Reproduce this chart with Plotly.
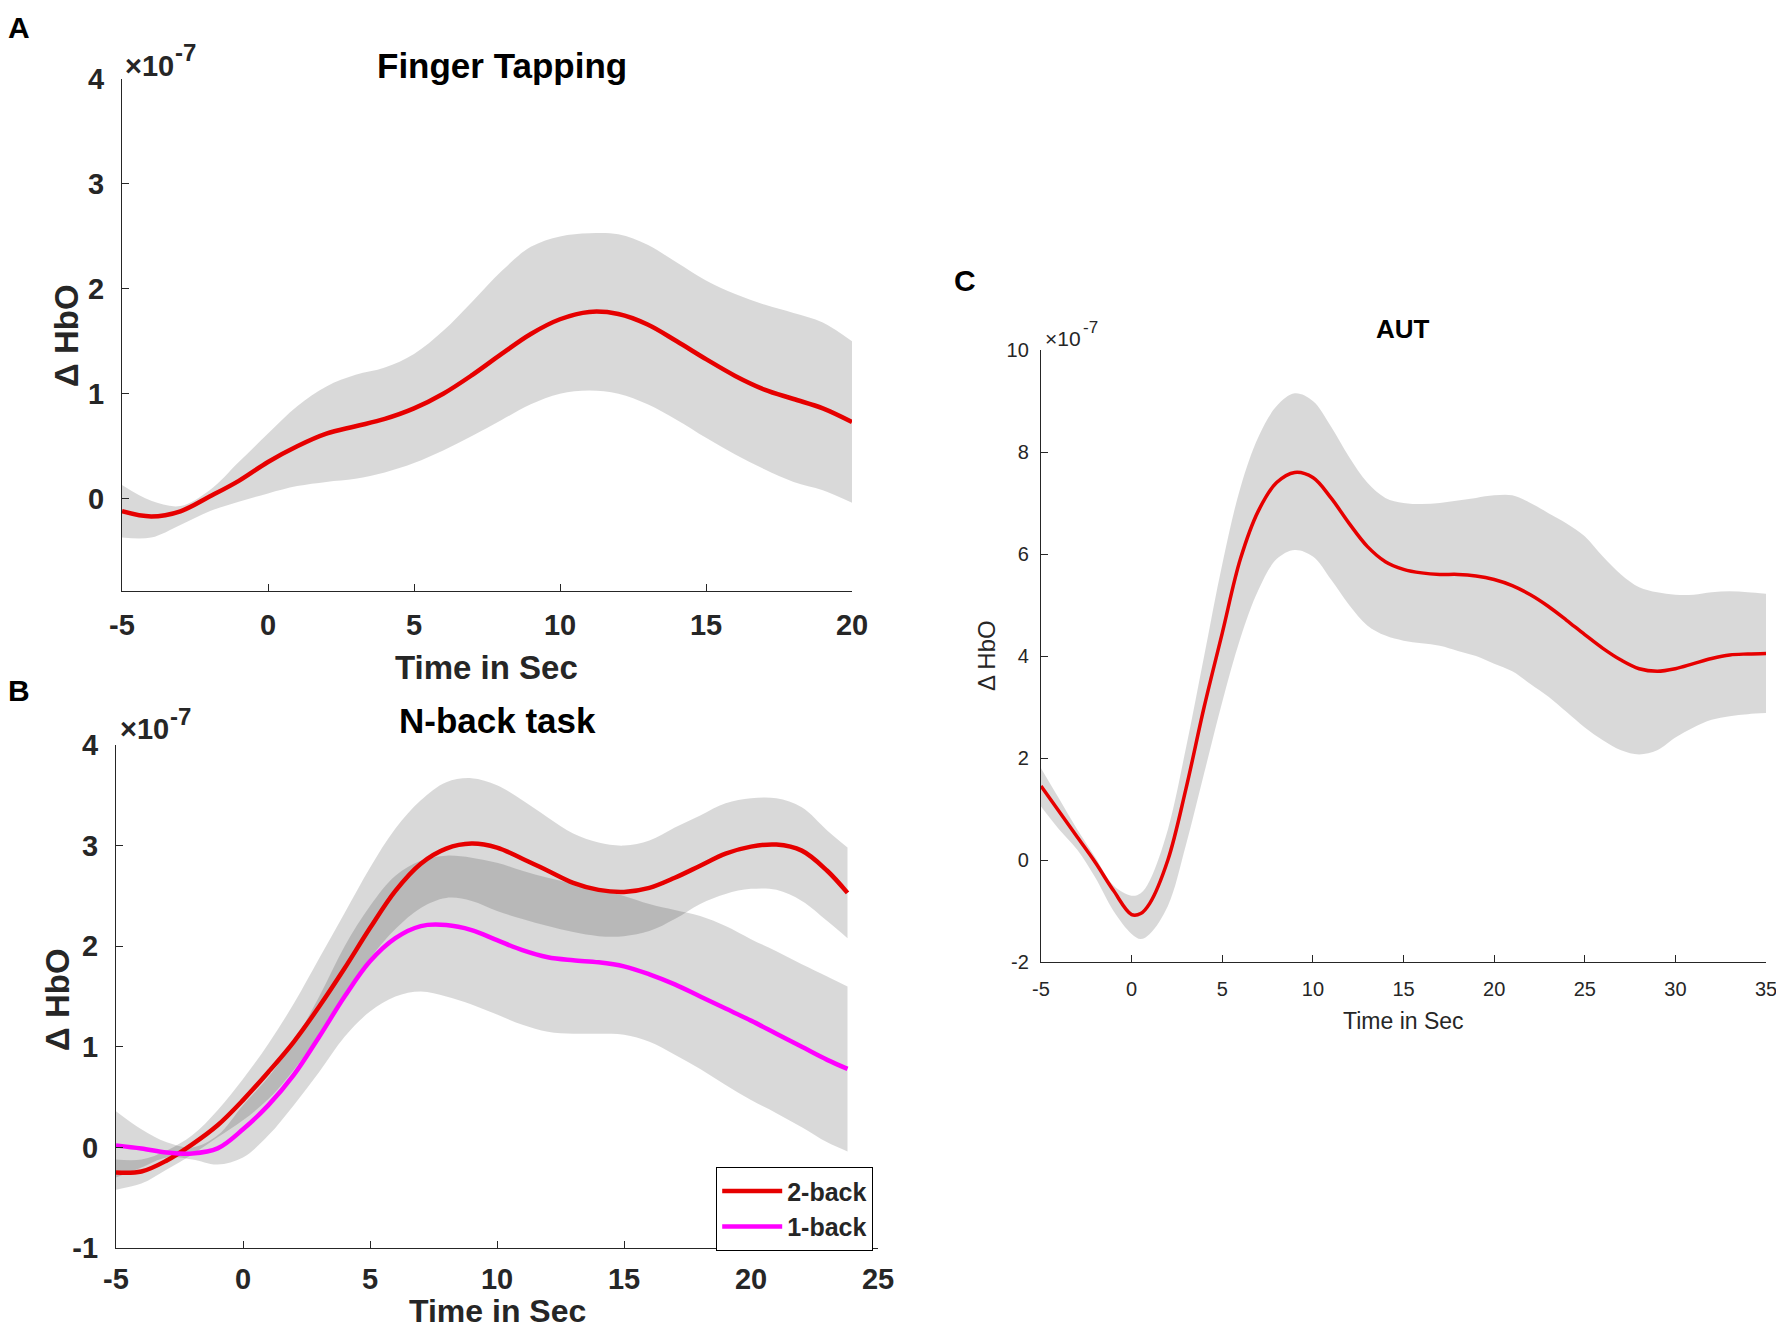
import plotly.graph_objects as go

# Panel A: Finger Tapping (values in units of 1e-7)
ft_time = [-5, -4, -3, -2, -1, 0, 1, 2, 3, 4, 5, 6, 7, 8, 9, 10, 11, 12, 13, 14, 15, 16, 17, 18, 19, 20]
ft_mean = [-0.12, -0.17, -0.12, 0.02, 0.17, 0.35, 0.5, 0.62, 0.69, 0.76, 0.86, 1.0, 1.18, 1.38, 1.57, 1.71,
           1.78, 1.76, 1.66, 1.5, 1.33, 1.17, 1.04, 0.95, 0.86, 0.73]
ft_upper = [0.13, -0.02, -0.07, 0.08, 0.35, 0.62, 0.88, 1.07, 1.18, 1.25, 1.38, 1.6, 1.88, 2.17, 2.4, 2.5,
            2.53, 2.52, 2.42, 2.25, 2.08, 1.95, 1.85, 1.77, 1.68, 1.5]
ft_lower = [-0.37, -0.37, -0.25, -0.12, -0.03, 0.05, 0.12, 0.16, 0.19, 0.25, 0.34, 0.46, 0.6, 0.75, 0.9, 1.0,
            1.03, 1.0, 0.9, 0.75, 0.58, 0.42, 0.28, 0.16, 0.08, -0.04]
ft_xticks = [-5, 0, 5, 10, 15, 20]
ft_xlabels = ["-5", "0", "5", "10", "15", "20"]
ft_yticks = [0, 1, 2, 3, 4]
ft_ylabels = ["0", "1", "2", "3", "4"]

# Panel B: N-back task
nb_time = [-5, -4, -3, -2, -1, 0, 1, 2, 3, 4, 5, 6, 7, 8, 9, 10, 11, 12, 13, 14, 15, 16, 17, 18, 19, 20,
           21, 22, 23, 23.8]
back2_mean = [-0.25, -0.24, -0.13, 0.03, 0.22, 0.47, 0.75, 1.05, 1.4, 1.78, 2.18, 2.55, 2.82, 2.97, 3.02, 2.98,
              2.87, 2.75, 2.63, 2.56, 2.54, 2.58, 2.68, 2.8, 2.92, 2.99, 3.01, 2.95, 2.75, 2.53]
back2_upper = [-0.12, -0.12, -0.03, 0.12, 0.37, 0.68, 1.03, 1.43, 1.88, 2.33, 2.78, 3.17, 3.45, 3.63, 3.67, 3.6,
               3.45, 3.28, 3.12, 3.03, 3.0, 3.05, 3.18, 3.3, 3.42, 3.47, 3.47, 3.38, 3.15, 2.98]
back2_lower = [-0.42, -0.36, -0.22, -0.07, 0.1, 0.27, 0.48, 0.77, 1.12, 1.52, 1.88, 2.17, 2.38, 2.48, 2.45, 2.35,
               2.27, 2.2, 2.14, 2.1, 2.1, 2.15, 2.27, 2.42, 2.52, 2.57, 2.56, 2.45, 2.25, 2.08]
back1_mean = [0.02, -0.01, -0.05, -0.06, -0.01, 0.18, 0.42, 0.72, 1.1, 1.5, 1.85, 2.08, 2.2, 2.21, 2.16, 2.06,
              1.96, 1.89, 1.86, 1.84, 1.8, 1.72, 1.62, 1.5, 1.38, 1.26, 1.13, 1.0, 0.87, 0.78]
back1_upper = [0.36, 0.18, 0.05, 0.0, 0.12, 0.42, 0.7, 1.05, 1.5, 2.0, 2.4, 2.7, 2.85, 2.9, 2.88, 2.83,
               2.75, 2.68, 2.62, 2.56, 2.5, 2.42, 2.36, 2.3, 2.2, 2.07, 1.95, 1.82, 1.7, 1.6]
back1_lower = [-0.3, -0.2, -0.1, -0.12, -0.17, -0.1, 0.12, 0.42, 0.75, 1.1, 1.35, 1.5, 1.55, 1.5, 1.42, 1.32,
               1.22, 1.15, 1.13, 1.13, 1.12, 1.05, 0.92, 0.78, 0.62, 0.47, 0.34, 0.2, 0.05, -0.04]
nb_xticks = [-5, 0, 5, 10, 15, 20, 25]
nb_xlabels = ["-5", "0", "5", "10", "15", "20", "25"]
nb_yticks = [-1, 0, 1, 2, 3, 4]
nb_ylabels = ["-1", "0", "1", "2", "3", "4"]

# Panel C: AUT
aut_time = [-5, -4, -3, -2, -1, 0, 0.5, 1, 2, 3, 4, 5, 6, 7, 8, 9, 10, 11, 12, 13, 14, 15, 16, 17, 18, 19,
            20, 21, 22, 23, 24, 25, 26, 27, 28, 29, 30, 31, 32, 33, 34, 35]
aut_mean = [1.45, 0.95, 0.45, -0.05, -0.6, -1.07, -1.05, -0.85, 0.0, 1.4, 3.0, 4.45, 5.9, 6.85, 7.4, 7.6,
            7.5, 7.1, 6.6, 6.15, 5.85, 5.7, 5.63, 5.6, 5.6, 5.57, 5.5, 5.38, 5.2, 4.97, 4.7, 4.42, 4.15, 3.92,
            3.75, 3.7, 3.75, 3.85, 3.95, 4.02, 4.04, 4.05]
aut_upper = [1.8, 1.2, 0.6, 0.05, -0.5, -0.7, -0.65, -0.4, 0.6, 2.2, 4.0, 5.8, 7.3, 8.3, 8.9, 9.15,
             9.0, 8.5, 7.9, 7.4, 7.1, 7.0, 6.98, 7.0, 7.05, 7.1, 7.15, 7.15, 7.0, 6.8, 6.6, 6.35, 5.95, 5.6,
             5.35, 5.25, 5.2, 5.2, 5.25, 5.27, 5.25, 5.22]
aut_lower = [1.05, 0.6, 0.2, -0.35, -1.0, -1.45, -1.55, -1.45, -0.9, 0.3, 1.7, 3.1, 4.35, 5.3, 5.9, 6.08,
             5.95, 5.5, 5.0, 4.6, 4.4, 4.3, 4.25, 4.2, 4.1, 4.0, 3.85, 3.7, 3.45, 3.2, 2.9, 2.6, 2.35, 2.15,
             2.07, 2.15, 2.4, 2.6, 2.75, 2.82, 2.86, 2.88]
aut_xticks = [-5, 0, 5, 10, 15, 20, 25, 30, 35]
aut_xlabels = ["-5", "0", "5", "10", "15", "20", "25", "30", "35"]
aut_yticks = [-2, 0, 2, 4, 6, 8, 10]
aut_ylabels = ["-2", "0", "2", "4", "6", "8", "10"]

# the page body keeps its 8px margin, so the figure is made 16px smaller
# than the window and target positions are shifted by that margin
PAD = 8
W, H = 1784 - 2 * PAD, 1336 - 2 * PAD
BAND = "rgba(0,0,0,0.15)"
RED = "#e60000"
MAGENTA = "#ff00ff"
AXC = "#262626"
BOLD_FONT = "Liberation Sans Narrow, Arial Narrow, Liberation Sans, Arial"
REG_FONT = "Liberation Sans, Arial"


def px(x):
    return (x - PAD) / W


def py(y):
    return 1 - (y - PAD) / H


def band(fig, t, up, lo, xa, ya):
    fig.add_trace(go.Scatter(x=t, y=up, mode="lines", line=dict(width=0, shape="spline"),
                             showlegend=False, hoverinfo="skip", xaxis=xa, yaxis=ya))
    fig.add_trace(go.Scatter(x=t, y=lo, mode="lines", line=dict(width=0, shape="spline"),
                             fill="tonexty", fillcolor=BAND,
                             showlegend=False, hoverinfo="skip", xaxis=xa, yaxis=ya))


fig = go.Figure()

# A
band(fig, ft_time, ft_upper, ft_lower, "x", "y")
fig.add_trace(go.Scatter(x=ft_time, y=ft_mean, mode="lines", line=dict(color=RED, width=4.5, shape="spline"),
                         showlegend=False, xaxis="x", yaxis="y"))

# B
band(fig, nb_time, back2_upper, back2_lower, "x2", "y2")
band(fig, nb_time, back1_upper, back1_lower, "x2", "y2")
fig.add_trace(go.Scatter(x=nb_time, y=back2_mean, mode="lines", name="2-back",
                         line=dict(color=RED, width=4.5, shape="spline"), xaxis="x2", yaxis="y2"))
fig.add_trace(go.Scatter(x=nb_time, y=back1_mean, mode="lines", name="1-back",
                         line=dict(color=MAGENTA, width=4.5, shape="spline"), xaxis="x2", yaxis="y2"))

# C
band(fig, aut_time, aut_upper, aut_lower, "x3", "y3")
fig.add_trace(go.Scatter(x=aut_time, y=aut_mean, mode="lines", line=dict(color=RED, width=3.5, shape="spline"),
                         showlegend=False, xaxis="x3", yaxis="y3"))


def axis(domain, rng, vals, labels, size, bold, anchor, standoff):
    fam = BOLD_FONT if bold else REG_FONT
    return dict(domain=domain, range=rng, tickvals=vals, ticktext=labels, anchor=anchor,
                showgrid=False, zeroline=False, showline=True, linecolor=AXC, linewidth=1.3,
                ticks="inside", ticklen=7, tickcolor=AXC, tickwidth=1.3, automargin=False,
                ticklabelstandoff=standoff, ticklabeloverflow="allow",
                tickfont=dict(family=fam, size=size, color=AXC, weight="bold" if bold else "normal"))


fig.update_layout(
    width=W, height=H, margin=dict(l=0, r=0, t=0, b=0),
    paper_bgcolor="white", plot_bgcolor="white",
    xaxis=axis([px(122), px(852)], [-5, 20], ft_xticks, ft_xlabels, 29, True, "y", 8),
    yaxis=axis([py(591), py(79)], [-0.88, 4], ft_yticks, ft_ylabels, 29, True, "x", 11),
    xaxis2=axis([px(116), px(878)], [-5, 25], nb_xticks, nb_xlabels, 29, True, "y2", 5),
    yaxis2=axis([py(1248), py(745)], [-1, 4], nb_yticks, nb_ylabels, 29, True, "x2", 11),
    xaxis3=axis([px(1041), px(1766)], [-5, 35], aut_xticks, aut_xlabels, 20, False, "y3", 9),
    yaxis3=axis([py(962), py(350)], [-2, 10], aut_yticks, aut_ylabels, 20, False, "x3", 7),
    legend=dict(x=px(873), y=py(1167), xanchor="right", yanchor="top", traceorder="normal",
                bordercolor="black", borderwidth=1.2, bgcolor="white",
                font=dict(family=BOLD_FONT, size=25, color=AXC, weight="bold"),
                tracegroupgap=0, itemwidth=60),
)

ann = []


def text(x, y, s, size, bold=True, family=None, xanchor="center", angle=0, color="black"):
    ann.append(dict(x=px(x), y=py(y), xref="paper", yref="paper", text=s, showarrow=False,
                    xanchor=xanchor, yanchor="middle", textangle=angle,
                    font=dict(family=family or BOLD_FONT, size=size, color=color,
                              weight="bold" if bold else "normal")))


# panel letters
text(19, 27, "A", 30, family="Liberation Sans, Arial")
text(19, 690, "B", 30, family="Liberation Sans, Arial")
text(965, 281, "C", 30, family="Liberation Sans, Arial")

# titles
text(502, 65, "Finger Tapping", 35)
text(497, 720, "N-back task", 35)
text(1403, 329, "AUT", 26, family="Liberation Sans, Arial")

# exponent labels: "x10" with a raised "-7"
text(123, 66, "\u00d710", 29, xanchor="left", color=AXC)
text(173, 53, "-7", 24, xanchor="left", color=AXC)
text(118, 729, "\u00d710", 29, xanchor="left", color=AXC)
text(168, 716, "-7", 24, xanchor="left", color=AXC)
text(1043, 339, "\u00d710", 21, bold=False, family=REG_FONT, xanchor="left", color=AXC)
text(1081, 327, "-7", 17, bold=False, family=REG_FONT, xanchor="left", color=AXC)

# axis titles
text(487, 667, "Time in Sec", 33, color=AXC)
text(497, 1311, "Time in Sec", 32, color=AXC)
text(1403, 1021, "Time in Sec", 23, bold=False, family=REG_FONT, color=AXC)
text(66, 336, "\u0394 HbO", 33, angle=-90, color=AXC)
text(58, 1000, "\u0394 HbO", 33, angle=-90, color=AXC)
text(986, 656, "\u0394 HbO", 24, bold=False, family=REG_FONT, angle=-90, color=AXC)

fig.update_layout(annotations=ann)

fig.write_html("out.html")
